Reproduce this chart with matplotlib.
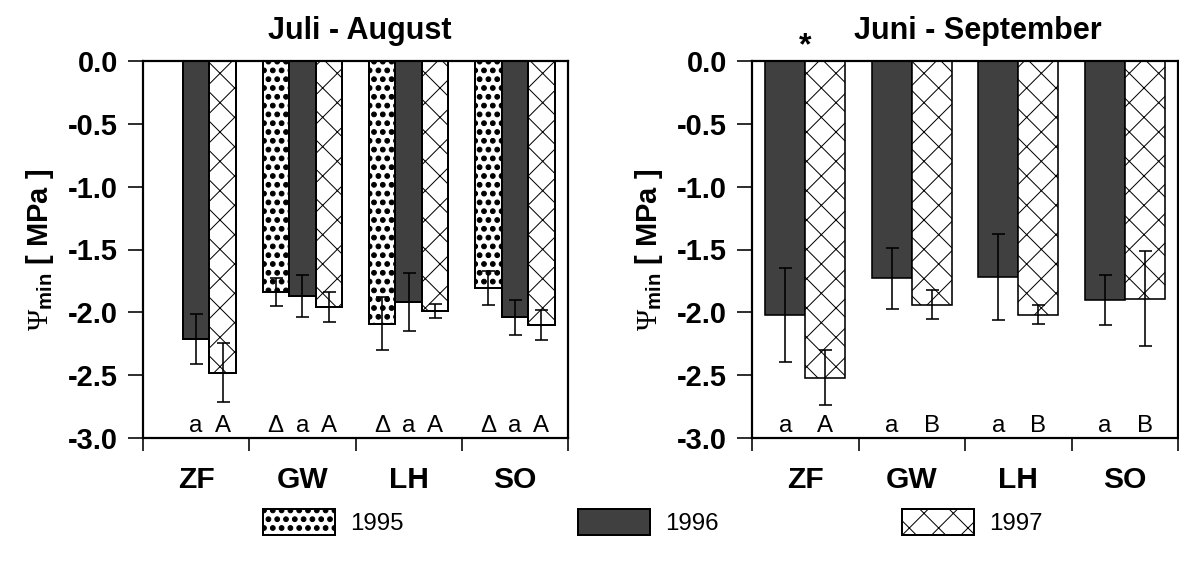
import numpy as np
import matplotlib
matplotlib.use("Agg")
import matplotlib.pyplot as plt
import matplotlib.hatch as mhatch
from matplotlib.transforms import blended_transform_factory

# data: minimum water potential per site and year
sites = ["ZF", "GW", "LH", "SO"]
yticks = [0.0, -0.5, -1.0, -1.5, -2.0, -2.5, -3.0]
years = ["1995", "1996", "1997"]

# Juli - August
ja_1995 = [np.nan, -1.84, -2.09, -1.81]
ja_1995_sd = [np.nan, 0.11, 0.21, 0.135]
ja_1996 = [-2.21, -1.87, -1.92, -2.04]
ja_1996_sd = [0.20, 0.165, 0.23, 0.14]
ja_1997 = [-2.48, -1.96, -1.99, -2.10]
ja_1997_sd = [0.235, 0.12, 0.055, 0.12]
ja_let_1995 = ["", "\u0394", "\u0394", "\u0394"]
ja_let_1996 = ["a", "a", "a", "a"]
ja_let_1997 = ["A", "A", "A", "A"]

# Juni - September
js_1996 = [-2.02, -1.73, -1.72, -1.90]
js_1996_sd = [0.375, 0.24, 0.34, 0.20]
js_1997 = [-2.52, -1.94, -2.02, -1.89]
js_1997_sd = [0.22, 0.115, 0.075, 0.375]
js_let_1996 = ["a", "a", "a", "a"]
js_let_1997 = ["A", "B", "B", "B"]

DPI = 88
W, H = 1179, 566


def pt(px):
    return px * 72.0 / DPI


plt.rcParams["font.family"] = ["Liberation Sans", "DejaVu Sans"]
plt.rcParams["mathtext.fontset"] = "custom"
plt.rcParams["mathtext.rm"] = "Liberation Serif"
plt.rcParams["mathtext.bf"] = "Liberation Sans:bold"
plt.rcParams["hatch.linewidth"] = pt(1.0)


# larger, slightly sparser filled dots for the '.' hatch
def _dots_init(self, hatch, density):
    self.num_rows = 5 * hatch.count(".")
    mhatch.Circles.__init__(self, hatch, density)


mhatch.SmallFilledCircles.__init__ = _dots_init
mhatch.SmallFilledCircles.size = 0.27

DARK = "#404040"
styles = {
    "1995": dict(color="white", hatch="..", edgecolor="black"),
    "1996": dict(color=DARK, edgecolor="black"),
    "1997": dict(color="white", hatch="x", edgecolor="black"),
}

fig = plt.figure(figsize=(W / DPI, H / DPI), dpi=DPI)
bottom = 1 - 438 / H
height = 377 / H
ax1 = fig.add_axes([143 / W, bottom, 425 / W, height])
ax2 = fig.add_axes([752 / W, bottom, 426 / W, height])

x = np.arange(len(sites)) + 0.5


def draw_group(ax, series, width, lw):
    n = len(series)
    for i, (year, vals, sd, letters) in enumerate(series):
        pos = x + (i - (n - 1) / 2) * width
        vals = np.array(vals, dtype=float)
        ok = ~np.isnan(vals)
        ax.bar(pos[ok], vals[ok], width, linewidth=pt(lw), zorder=2,
               label=year, **styles[year])
        ax.errorbar(pos[ok], vals[ok], yerr=np.array(sd)[ok], fmt="none",
                    ecolor="black", elinewidth=pt(1.6), capsize=pt(6.5),
                    capthick=pt(1.6), zorder=3)
        for p, t in zip(pos, letters):
            if t:
                ax.text(p, -2.95, t, ha="center", va="baseline",
                        fontsize=pt(24))


draw_group(ax1, [("1995", ja_1995, ja_1995_sd, ja_let_1995),
                 ("1996", ja_1996, ja_1996_sd, ja_let_1996),
                 ("1997", ja_1997, ja_1997_sd, ja_let_1997)], 0.25, 2.0)
draw_group(ax2, [("1996", js_1996, js_1996_sd, js_let_1996),
                 ("1997", js_1997, js_1997_sd, js_let_1997)], 0.375, 1.6)

ylabel = r"$\Psi_{\mathbf{min}}$ [ MPa ]"
for ax, title, tx in [(ax1, "Juli - August", 0.51),
                      (ax2, "Juni - September", 0.53)]:
    ax.set_xlim(0, 4)
    ax.set_ylim(-3, 0)
    ax.set_yticks(yticks)
    ax.set_yticklabels([f"{v:.1f}" for v in yticks], fontsize=pt(29),
                       fontweight="bold")
    ax.set_xticks(np.arange(len(sites) + 1))
    ax.set_xticklabels([])
    ax.set_xticks(x, minor=True)
    ax.set_xticklabels(sites, minor=True, fontsize=pt(30), fontweight="bold")
    ax.tick_params(axis="x", which="major", direction="out", length=pt(13),
                   width=pt(1.6))
    ax.tick_params(axis="x", which="minor", length=0, pad=pt(28))
    ax.tick_params(axis="y", direction="out", length=pt(15), width=pt(1.6),
                   pad=pt(10))
    for s in ax.spines.values():
        s.set_linewidth(pt(2.2))
        s.set_zorder(4)
    ax.set_title(title, x=tx, fontsize=pt(30.5), fontweight="bold",
                 pad=pt(22))
    ax.set_ylabel(ylabel, fontsize=pt(29), fontweight="bold", labelpad=pt(12))

# significance mark above ZF
trans = blended_transform_factory(ax2.transData, ax2.transAxes)
ax2.text(x[0], 1.0, "*", transform=trans, ha="center", va="bottom",
         fontsize=pt(32), fontweight="bold")

# legend, one entry per year
handles = {h.get_label(): h for h in ax1.get_legend_handles_labels()[0]}
for year, left in zip(years, [263, 578, 902]):
    fig.legend([handles[year]], [year], loc="center left",
               bbox_to_anchor=(left / W, 1 - 522 / H), frameon=False,
               fontsize=pt(24), handlelength=72 / 24, handleheight=32 / 24,
               handletextpad=15 / 24, borderpad=0, borderaxespad=0)

fig.savefig("out.png", dpi=DPI)
